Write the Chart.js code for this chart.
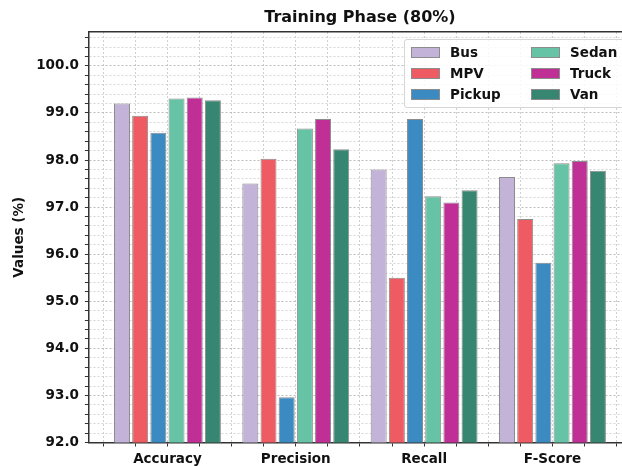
<!DOCTYPE html>
<html>
<head>
<meta charset="utf-8">
<script src="https://cdn.jsdelivr.net/npm/chart.js@4"></script>
<style>
  html, body { margin: 0; padding: 0; background: #fff; overflow: hidden; }
  #wrap { position: relative; width: 634px; height: 466px; }
  #legend {
    position: absolute; left: 404px; top: 39px; width: 240px; height: 67px;
    border: 1px solid #d6d6d6; border-radius: 3px; background: rgba(255,255,255,0.85);
    font: bold 13.5px "DejaVu Sans", sans-serif; color: #111;
  }
  .item { position: absolute; height: 16px; line-height: 16px; white-space: nowrap; }
  .swatch { position: absolute; left: 0; top: 3px; width: 27px; height: 9px; border: 1px solid #8c8c8c; }
  .label { position: absolute; left: 39px; top: 0; }
</style>
</head>
<body>
<div id="wrap">
  <canvas id="chart" width="634" height="466"></canvas>
  <div id="legend"></div>
</div>
<script>
// Metrics on the x axis
const categories = ['Accuracy', 'Precision', 'Recall', 'F-Score'];
// Vehicle classes (one bar series each)
const vehicleNames = ['Bus', 'MPV', 'Pickup', 'Sedan', 'Truck', 'Van'];
const vehicleColors = ['#c4b3d9', '#ef5b63', '#3b8bc2', '#66c3a6', '#c02f96', '#378671'];
// Scores (%) per metric for each class
const busValues    = [99.20, 97.50, 97.80, 97.64];
const mpvValues    = [98.94, 98.03, 95.50, 96.75];
const pickupValues = [98.58, 92.96, 98.87, 95.82];
const sedanValues  = [99.31, 98.67, 97.23, 97.93];
const truckValues  = [99.33, 98.87, 97.10, 97.98];
const vanValues    = [99.27, 98.23, 97.36, 97.77];
const seriesValues = [busValues, mpvValues, pickupValues, sedanValues, truckValues, vanValues];
// Value axis range and tick spacing
const yMin = 92.0, yMax = 100.72, yMinorStep = 0.2;
const xMin = -0.612, xMax = 3.612, xMinorStep = 0.25;

const FONT = '"DejaVu Sans", sans-serif';
const isWhole = v => Math.abs(v - Math.round(v)) < 1e-6;

const datasets = vehicleNames.map((name, k) => ({
  label: name,
  data: seriesValues[k].map((v, i) => ({ x: i, y: v })),
  backgroundColor: vehicleColors[k],
  borderColor: '#8c8c8c',
  borderWidth: 1,
  xAxisID: 'xt',
  yAxisID: 'y'
}));

function stepTicks(from, to, step) {
  const out = [];
  for (let v = from; v <= to + 1e-9; v += step) out.push({ value: Math.round(v * 100) / 100 });
  return out;
}

new Chart(document.getElementById('chart'), {
  type: 'bar',
  data: { datasets },
  options: {
    responsive: false,
    animation: false,
    layout: { padding: { left: 8, right: 3, top: 0, bottom: -6.7 } },
    categoryPercentage: 0.85,
    barPercentage: 0.88,
    plugins: {
      legend: { display: false },
      tooltip: { enabled: false },
      title: {
        display: true,
        text: 'Training Phase (80%)',
        fullSize: false,
        color: '#111',
        font: { family: FONT, size: 16, weight: 'bold' },
        padding: { top: 8, bottom: 4.8 }
      }
    },
    scales: {
      // top frame line; also places the bars, one slot per metric
      xt: {
        type: 'linear', position: 'top', min: xMin, max: xMax, offset: false,
        afterBuildTicks: axis => { axis.ticks = categories.map((c, i) => ({ value: i })); },
        ticks: { display: false },
        grid: { display: false, drawTicks: false, offset: false },
        border: { display: true, color: '#333', width: 1.5 }
      },
      // visible metric axis with quarter-step minor grid
      x: {
        type: 'linear', position: 'bottom', min: xMin, max: xMax, offset: false,
        afterBuildTicks: axis => { axis.ticks = stepTicks(-0.5, 3.5, xMinorStep); },
        ticks: {
          autoSkip: false, maxRotation: 0, padding: 5, color: '#111',
          font: { family: FONT, size: 13.5, weight: 'bold' },
          callback: v => isWhole(v) ? categories[Math.round(v)] : ''
        },
        grid: { offset: false, color: '#cfcfcf', lineWidth: 1, tickLength: 4, tickColor: '#333', tickWidth: 1 },
        border: { display: true, color: '#333', width: 1.5, dash: [2, 2] }
      },
      y: {
        type: 'linear', min: yMin, max: yMax,
        afterBuildTicks: axis => { axis.ticks = stepTicks(yMin, 100.6, yMinorStep); },
        ticks: {
          autoSkip: false, padding: 6, color: '#111',
          font: { family: FONT, size: 13.5, weight: 'bold' },
          callback: v => isWhole(v) ? v.toFixed(1) : ''
        },
        grid: {
          color: ctx => isWhole(ctx.tick.value) ? '#bdbdbd' : '#d6d6d6',
          lineWidth: 1, tickLength: 4, tickColor: '#333', tickWidth: 1
        },
        border: { display: true, color: '#333', width: 1.5, dash: [2, 2] },
        title: {
          display: true, text: 'Values (%)', color: '#111',
          font: { family: FONT, size: 13.5, weight: 'bold' },
          padding: { top: 3, bottom: 3 }
        }
      }
    }
  }
});

// Two-column legend inside the plot area, filled column by column
const legend = document.getElementById('legend');
vehicleNames.forEach((name, k) => {
  const item = document.createElement('div');
  item.className = 'item';
  item.style.left = (6 + Math.floor(k / 3) * 120) + 'px';
  item.style.top = (4 + (k % 3) * 21) + 'px';
  const sw = document.createElement('span');
  sw.className = 'swatch';
  sw.style.background = vehicleColors[k];
  const lb = document.createElement('span');
  lb.className = 'label';
  lb.textContent = name;
  item.appendChild(sw);
  item.appendChild(lb);
  legend.appendChild(item);
});
</script>
</body>
</html>
